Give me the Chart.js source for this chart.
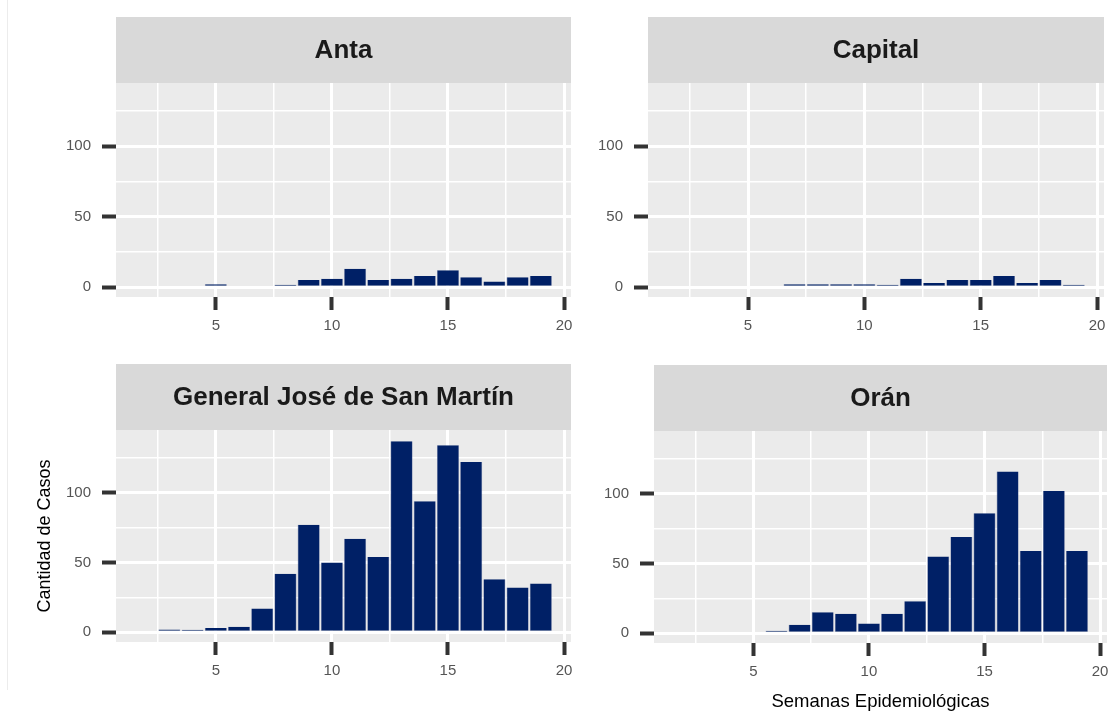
<!DOCTYPE html>
<html>
<head>
<meta charset="utf-8">
<script src="https://cdn.jsdelivr.net/npm/chart.js@4.4.0/dist/chart.umd.min.js"></script>
<style>
  body { margin: 0; background: #fff; width: 1110px; height: 713px; overflow: hidden; position: relative; }
  canvas { position: absolute; }
  #edge { position: absolute; left: 7px; top: 0; width: 1px; height: 690px; background: #ececec; }
</style>
</head>
<body>
<div id="edge"></div>
<canvas id="anta"></canvas>
<canvas id="capital"></canvas>
<canvas id="sanmartin"></canvas>
<canvas id="oran"></canvas>
<script>
// casos por semana epidemiologica, por departamento
const antaWeeks = [5, 8, 9, 10, 11, 12, 13, 14, 15, 16, 17, 18, 19];
const antaCases = [2, 1, 5, 6, 13, 5, 6, 8, 12, 7, 4, 7, 8];

const capitalWeeks = [7, 8, 9, 10, 11, 12, 13, 14, 15, 16, 17, 18, 19];
const capitalCases = [2, 2, 2, 2, 1, 6, 3, 5, 5, 8, 3, 5, 1];

const sanMartinWeeks = [3, 4, 5, 6, 7, 8, 9, 10, 11, 12, 13, 14, 15, 16, 17, 18, 19];
const sanMartinCases = [2, 1, 3, 4, 17, 42, 77, 50, 67, 54, 137, 94, 134, 122, 38, 32, 35];

const oranWeeks = [6, 7, 8, 9, 10, 11, 12, 13, 14, 15, 16, 17, 18, 19];
const oranCases = [1, 6, 15, 14, 7, 14, 23, 55, 69, 86, 116, 59, 102, 59];

const xMajor = [5, 10, 15, 20];
const xMinor = [2.5, 7.5, 12.5, 17.5];
const yMajor = [0, 50, 100];
const yMinor = [25, 75, 125];

const FONT = "'Liberation Sans', Arial, sans-serif";
const BAR = '#002066';

// fondo gris del panel y de la franja del titulo
const facetBg = {
  id: 'facetBg',
  beforeDraw(chart) {
    const { ctx, chartArea: a } = chart;
    const t = chart.titleBlock;
    ctx.save();
    ctx.fillStyle = '#EBEBEB';
    ctx.fillRect(a.left, a.top, a.right - a.left, a.bottom - a.top);
    ctx.fillStyle = '#D9D9D9';
    ctx.fillRect(a.left, t.top, a.right - a.left, a.top - t.top);
    ctx.restore();
  }
};

function makeFacet(id, box, name, weeks, cases, xTitle, yTitle) {
  const canvas = document.getElementById(id);
  canvas.width = box.width;
  canvas.height = box.height;
  canvas.style.left = box.left + 'px';
  canvas.style.top = box.top + 'px';

  const xTicks = xMinor.concat(xMajor).sort((a, b) => a - b);
  const yTicks = yMajor.concat(yMinor).sort((a, b) => a - b);

  new Chart(canvas, {
    type: 'bar',
    data: {
      datasets: [{
        data: weeks.map((w, i) => ({ x: w, y: cases[i] })),
        backgroundColor: BAR,
        borderColor: '#5b6a99',
        borderWidth: { top: 0, left: 0.6, right: 0.6, bottom: 0 },
        minBarLength: 2.5,
        barPercentage: 1,
        categoryPercentage: 0.95
      }]
    },
    options: {
      responsive: false,
      animation: false,
      layout: { padding: { right: box.padRight } },
      plugins: {
        legend: { display: false },
        tooltip: { enabled: false },
        title: {
          display: true,
          text: name,
          fullSize: false,
          color: '#1A1A1A',
          font: { family: FONT, size: 26, weight: 'bold' },
          padding: { top: 18, bottom: 16.8 }
        }
      },
      scales: {
        x: {
          type: 'linear',
          min: 0.7,
          max: 20.3,
          offset: false,
          border: { display: false },
          grid: {
            offset: false,
            color: '#FFFFFF',
            lineWidth: c => xMajor.includes(c.tick.value) ? 3 : 1.5,
            tickColor: c => xMajor.includes(c.tick.value) ? '#333333' : 'rgba(0,0,0,0)',
            tickWidth: 4,
            tickLength: 13
          },
          ticks: {
            autoSkip: false,
            maxRotation: 0,
            padding: 7,
            color: '#555555',
            font: { family: FONT, size: 15 },
            callback: v => xMajor.includes(v) ? String(v) : ''
          },
          title: {
            display: !!xTitle,
            text: xTitle || '',
            color: '#000000',
            font: { family: FONT, size: 18.5 },
            padding: { top: 0, bottom: 0 }
          },
          afterBuildTicks: s => { s.ticks = xTicks.map(v => ({ value: v })); },
          afterFit: s => { s.height = box.xHeight; s.paddingLeft = 0; s.paddingRight = 0; }
        },
        y: {
          min: -7,
          max: 145,
          border: { display: false },
          grid: {
            color: '#FFFFFF',
            lineWidth: c => yMajor.includes(c.tick.value) ? 3 : 1.5,
            tickColor: c => yMajor.includes(c.tick.value) ? '#333333' : 'rgba(0,0,0,0)',
            tickWidth: 4,
            tickLength: 14
          },
          ticks: {
            padding: 11,
            color: '#555555',
            font: { family: FONT, size: 15 },
            callback: v => yMajor.includes(v) ? String(v) : ''
          },
          title: {
            display: !!yTitle,
            text: yTitle || '',
            color: '#000000',
            font: { family: FONT, size: 18 },
            padding: { top: 14, bottom: 0 }
          },
          afterBuildTicks: s => { s.ticks = yTicks.map(v => ({ value: v })); },
          afterFit: s => { s.width = box.yWidth; s.paddingTop = 0; s.paddingBottom = 0; }
        }
      }
    },
    plugins: [facetBg]
  });
}

makeFacet('anta', { left: 40, top: 17, width: 541, height: 320, yWidth: 76, xHeight: 40, padRight: 10 },
  'Anta', antaWeeks, antaCases);
makeFacet('capital', { left: 590, top: 17, width: 520, height: 320, yWidth: 58, xHeight: 40, padRight: 6 },
  'Capital', capitalWeeks, capitalCases);
makeFacet('sanmartin', { left: 20, top: 364, width: 561, height: 318, yWidth: 96, xHeight: 40, padRight: 10 },
  'General José de San Martín', sanMartinWeeks, sanMartinCases, null, 'Cantidad de Casos');
makeFacet('oran', { left: 596, top: 365, width: 514, height: 348, yWidth: 58, xHeight: 70, padRight: 3 },
  'Orán', oranWeeks, oranCases, 'Semanas Epidemiológicas');
</script>
</body>
</html>
